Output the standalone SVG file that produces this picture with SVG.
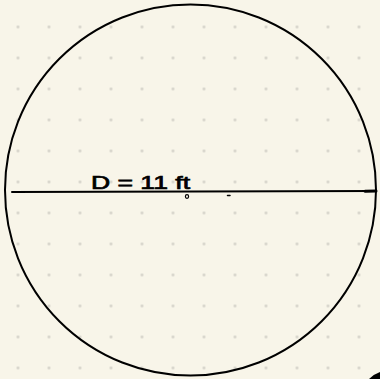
<svg xmlns="http://www.w3.org/2000/svg" width="380" height="379" viewBox="0 0 380 379">
<defs>
<pattern id="dots" x="2.5" y="11.5" width="31" height="31" patternUnits="userSpaceOnUse">
<circle cx="15.5" cy="15.5" r="1.4" fill="#d3d1c8"/>
</pattern>
<style>
.ink{fill:none;stroke:#000;stroke-linecap:round;stroke-linejoin:round}
.lbl{font-family:"Liberation Sans",sans-serif;font-size:18px;fill:#000;stroke:#000;stroke-width:0.7}
</style>
</defs>
<rect width="380" height="379" fill="#f8f5e9"/>
<rect width="380" height="379" fill="url(#dots)"/>
<g id="circle">
<circle class="ink" cx="190.5" cy="190" r="185.5" stroke-width="2"/>
</g>
<g id="diameter">
<path class="ink" d="M12 192 L375 191" stroke-width="2"/>
<path class="ink" d="M365 191.3 L376 191" stroke-width="3"/>
<text class="lbl" x="91" y="189" textLength="99" lengthAdjust="spacingAndGlyphs">D = 11 ft</text>
<ellipse cx="187" cy="196.5" rx="1.6" ry="1.8" fill="none" stroke="#000" stroke-width="1.2"/>
<path class="ink" d="M227.5 195.5 L230 195.5" stroke-width="1.5"/>
</g>
<g id="fragment">
<path d="M369 379 Q374 374 380 372 L380 379 Z" fill="#000"/>
</g>
</svg>
